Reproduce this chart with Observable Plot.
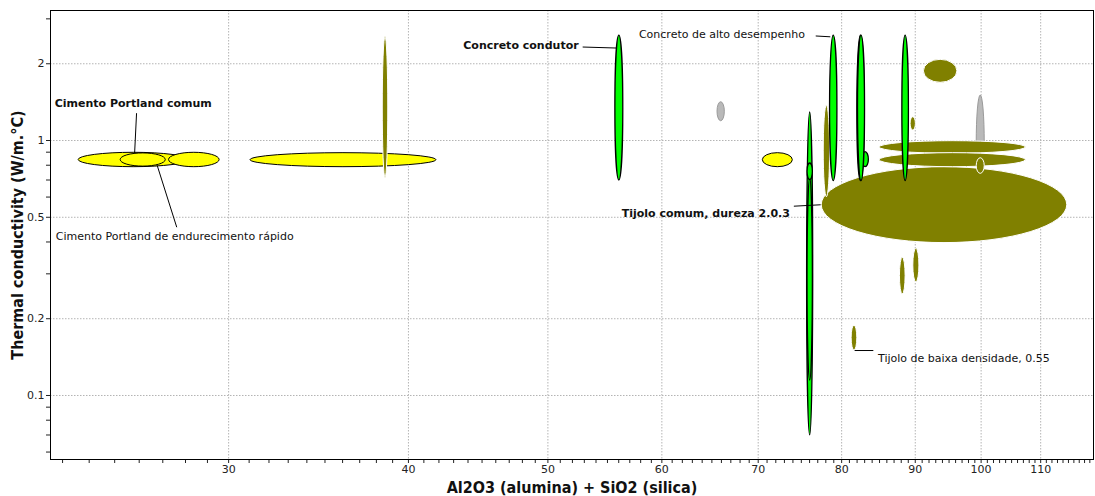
<!DOCTYPE html>
<html><head><meta charset="utf-8">
<script src="https://cdn.jsdelivr.net/npm/d3@7"></script>
<script src="https://cdn.jsdelivr.net/npm/@observablehq/plot@0.6"></script>
<style>body{margin:0;background:#fff}</style>
</head><body><div id="chart"></div>
<script>
// ---- Data (draw order) ----
const materials = [
  "Cimento Portland comum", "Cimento Portland de endurecimento rápido", "Cimento Portland branco",
  "Cimento de escória", "Cimento de alta alumina",
  "Vidro sodo-cálcico", "Sílica fundida",
  "Tijolo refratário de cromita", "Tijolo comum, dureza 2.0.3", "Tijolo refratário sílico-aluminoso",
  "Tijolo refratário aluminoso", "Tijolo de sílica", "Tijolo de alta alumina", "Tijolo de alta densidade",
  "Tijolo vitrificado", "Tijolo isolante, 0.8", "Tijolo isolante, 0.9", "Tijolo de baixa densidade, 0.55",
  "Concreto leve", "Concreto celular", "Concreto de agregado leve", "Concreto condutor",
  "Concreto de alto desempenho", "Concreto refratário", "Concreto comum", "Concreto comum (b)", "Concreto de sílica"
];
const family = [
  "cimento","cimento","cimento","cimento","cimento",
  "outro","outro",
  "tijolo","tijolo","tijolo","tijolo","tijolo","tijolo","tijolo","tijolo","tijolo","tijolo","tijolo",
  "concreto","concreto","concreto","concreto","concreto","concreto","concreto","concreto","concreto"
];
// Al2O3 + SiO2 (%) range
const silicaMin = [23.60, 25.24, 27.27, 31.07, 70.52,  65.59, 99.30,  38.39, 77.49, 85.02, 85.02, 99.30, 77.74, 91.25, 89.33, 87.82, 89.72, 81.29,  75.70, 75.75, 75.75, 55.70, 78.53, 82.69, 82.03, 82.12, 88.16];
const silicaMax = [28.14, 27.13, 29.57, 41.83, 73.99,  66.36, 100.58, 38.73, 114.78, 107.42, 107.42, 100.58, 78.53, 96.28, 90.09, 88.62, 90.60, 82.03, 76.44, 76.40, 76.40, 56.41, 79.46, 83.56, 82.99, 83.05, 89.09];
// Thermal conductivity (W/m.°C) range
const condMin = [0.786, 0.790, 0.786, 0.786, 0.786,  1.190, 0.637,  0.710, 0.396, 0.887, 0.786, 0.740, 0.599, 1.684, 1.094, 0.249, 0.278, 0.150,  0.0697, 0.1145, 0.700, 0.697, 0.693, 0.786, 0.693, 0.693, 0.693];
const condMax = [0.895, 0.890, 0.895, 0.892, 0.892,  1.413, 1.501,  2.557, 0.786, 0.994, 0.892, 0.852, 1.372, 2.072, 1.234, 0.347, 0.376, 0.188,  1.288, 0.710, 0.8125, 2.58, 2.58, 0.900, 2.58, 2.58, 2.58];

const familyOrder = ["cimento", "outro", "tijolo", "concreto"];
const familyFill = {cimento: "#ffff00", outro: "#b9b9b9", tijolo: "#808000", concreto: "#00ff00"};
const familyStroke = {cimento: "#000000", outro: "#9a9a9a", tijolo: "#ffffff", concreto: "#000000"};
const familyStrokeWidth = {cimento: 1, outro: 1, tijolo: 1, concreto: 1.3};

// Annotations
const labelText = ["Cimento Portland comum", "Cimento Portland de endurecimento rápido", "Concreto condutor",
  "Concreto de alto desempenho", "Tijolo comum, dureza 2.0.3", "Tijolo de baixa densidade, 0.55"];
const labelBold = [true, false, true, false, true, false];
const labelAnchor = ["start", "start", "end", "start", "end", "start"];
const labelX = [22.71, 22.75, 52.52, 57.84, 73.64, 84.79];
const labelY = [1.393, 0.4203, 2.358, 2.604, 0.516, 0.1393];
const leaderX1 = [25.89, 26.76, 52.86, 76.75, 74.11, 81.68];
const leaderY1 = [1.280, 0.798, 2.326, 2.570, 0.5526, 0.1501];
const leaderX2 = [25.81, 27.61, 55.81, 78.56, 77.36, 84.16];
const leaderY2 = [0.892, 0.457, 2.305, 2.551, 0.5597, 0.1501];

// Axes
const xMajor = [30, 40, 50, 60, 70, 80, 90, 100, 110];
const xMinor = d3.range(23, 120);
const yMajor = [0.1, 0.2, 0.5, 1, 2];
const yMinor = [0.06, 0.07, 0.08, 0.09, 0.1, 0.2, 0.3, 0.4, 0.5, 0.6, 0.7, 0.8, 0.9, 1, 2, 3];
const xTitle = "Al2O3 (alumina) + SiO2 (silica)";
const yTitle = "Thermal conductivity (W/m.°C)";

// ---- Build ----
const rows = materials.map((m, i) => ({name: m, family: family[i], x1: silicaMin[i], x2: silicaMax[i], y1: condMin[i], y2: condMax[i]}));
const labels = labelText.map((t, i) => ({t, bold: labelBold[i], anchor: labelAnchor[i], x: labelX[i], y: labelY[i]}));
const leaders = leaderX1.map((_, i) => ({x1: leaderX1[i], y1: leaderY1[i], x2: leaderX2[i], y2: leaderY2[i]}));

const ellipseMarks = familyOrder.map(f => Plot.rect(rows.filter(d => d.family === f), {
  x1: "x1", x2: "x2", y1: "y1", y2: "y2",
  fill: familyFill[f], stroke: familyStroke[f], strokeWidth: familyStrokeWidth[f]
}));

const labelMarks = [];
for (const bold of [true, false]) {
  for (const anchor of ["start", "end"]) {
    const sub = labels.filter(d => d.bold === bold && d.anchor === anchor);
    if (sub.length) labelMarks.push(Plot.text(sub, {
      x: "x", y: "y", text: "t", textAnchor: anchor, lineAnchor: "middle",
      fontWeight: bold ? "bold" : "normal", fill: "#111", fontSize: 11
    }));
  }
}

const svg = Plot.plot({
  width: 1095, height: 496,
  marginLeft: 50, marginRight: 2, marginTop: 10, marginBottom: 37,
  style: {fontFamily: "DejaVu Sans", fontSize: "11px", color: "#222", background: "#fff"},
  x: {type: "log", domain: [22.56, 119.7], label: null},
  y: {type: "log", domain: [0.0561, 3.235], label: null},
  marks: [
    Plot.gridX({ticks: xMajor, stroke: "#b4b4b4", strokeOpacity: 1, strokeDasharray: "1.5,1.5"}),
    Plot.gridY({ticks: yMajor, stroke: "#b4b4b4", strokeOpacity: 1, strokeDasharray: "1.5,1.5"}),
    ...ellipseMarks,
    Plot.link(leaders, {x1: "x1", y1: "y1", x2: "x2", y2: "y2", stroke: "#000", strokeWidth: 1}),
    ...labelMarks,
    Plot.axisX({ticks: xMinor, tickSize: 4, tickPadding: 2, label: null, tickFormat: d => xMajor.includes(d) ? String(d) : ""}),
    Plot.axisY({ticks: yMinor, tickSize: 4, tickPadding: 2, label: null, tickFormat: d => yMajor.includes(d) ? String(d) : ""}),
    Plot.frame({stroke: "#000"}),
    Plot.text([xTitle], {text: d => d, frameAnchor: "bottom", textAnchor: "middle", lineAnchor: "middle", dy: 28, fontWeight: "bold", fontSize: 16, fill: "#111", fontFamily: "DejaVu Sans Condensed"}),
    Plot.text([yTitle], {text: d => d, frameAnchor: "left", textAnchor: "middle", lineAnchor: "middle", dx: -33, rotate: -90, fontWeight: "bold", fontSize: 16, fill: "#111", fontFamily: "DejaVu Sans Condensed"})
  ]
});

// turn each range box into the ellipse it bounds
d3.select(svg).selectAll('g[aria-label="rect"] rect').each(function() {
  const w = +this.getAttribute("width"), h = +this.getAttribute("height");
  this.setAttribute("rx", w / 2);
  this.setAttribute("ry", h / 2);
});
document.getElementById("chart").appendChild(svg);
</script>
</body></html>
